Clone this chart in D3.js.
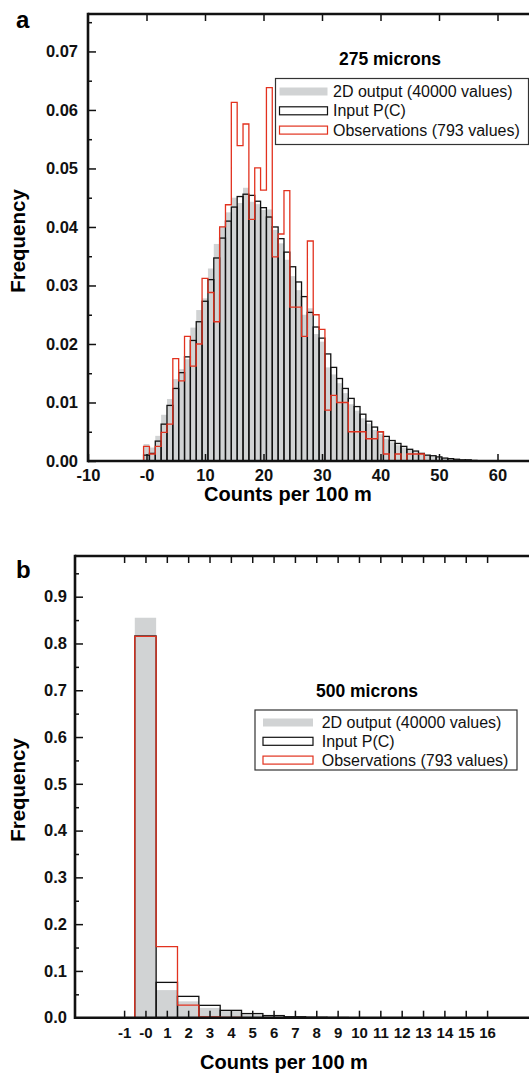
<!DOCTYPE html>
<html>
<head>
<meta charset="utf-8">
<script src="https://cdn.jsdelivr.net/npm/d3@7"></script>
<style>
  body { margin: 0; background: #fff; }
  svg { display: block; }
  text { font-family: "Liberation Sans", Arial, Helvetica, sans-serif; }
</style>
</head>
<body>
<svg id="chart" width="529" height="1073"></svg>
<script>
// ---- panel a : 275 microns ----
const countsA = [0, 1, 2, 3, 4, 5, 6, 7, 8, 9, 10, 11, 12, 13, 14, 15, 16, 17, 18, 19,
  20, 21, 22, 23, 24, 25, 26, 27, 28, 29, 30, 31, 32, 33, 34, 35, 36, 37, 38, 39,
  40, 41, 42, 43, 44, 45, 46, 47, 48, 49, 50, 51, 52, 53, 54, 55, 56];
// 2D output (grey filled bars)
const outputA = [0.0029, 0.0023, 0.0043, 0.0079, 0.0106, 0.0140, 0.0157, 0.0174, 0.0228, 0.0258,
  0.0278, 0.0329, 0.0371, 0.0401, 0.0425, 0.0450, 0.0441, 0.0467, 0.0443, 0.0439,
  0.0429, 0.0430, 0.0395, 0.0372, 0.0344, 0.0316, 0.0292, 0.0250, 0.0261, 0.0217,
  0.0204, 0.0160, 0.0148, 0.0133, 0.0116, 0.0097, 0.0086, 0.0073, 0.0064, 0.0053,
  0.0046, 0.0038, 0.0032, 0.0027, 0.0023, 0.0019, 0.0015, 0.0012, 0.0010, 0.0008,
  0.0006, 0.0005, 0.0004, 0.0003, 0.0002, 0.0002, 0.0001];
// Input P(C) (black outlined bars)
const inputA = [0.0010, 0.0013, 0.0034, 0.0063, 0.0095, 0.0124, 0.0151, 0.0178, 0.0206, 0.0238,
  0.0273, 0.0310, 0.0347, 0.0381, 0.0410, 0.0434, 0.0452, 0.0456, 0.0454, 0.0444,
  0.0433, 0.0417, 0.0400, 0.0380, 0.0357, 0.0332, 0.0306, 0.0281, 0.0254, 0.0229,
  0.0210, 0.0183, 0.0160, 0.0141, 0.0124, 0.0107, 0.0093, 0.0080, 0.0068, 0.0058,
  0.0050, 0.0042, 0.0035, 0.0030, 0.0025, 0.0020, 0.0017, 0.0013, 0.0010, 0.0009,
  0.0007, 0.0005, 0.0004, 0.0003, 0.0002, 0.0002, 0.0001];
// Observations (red step outline)
const obsCountsA = [0, 1, 2, 3, 4, 5, 6, 7, 8, 9, 10, 11, 12, 13, 14, 15, 16, 17, 18, 19,
  20, 21, 22, 23, 24, 25, 26, 27, 28, 29, 30, 31, 32, 33, 34, 35, 36, 37, 38, 39,
  40, 41, 42, 43, 44, 45, 46, 47, 48];
const obsA = [0.0025, 0.0012, 0.0025, 0.0049, 0.0063, 0.0175, 0.0137, 0.0213, 0.0162, 0.0200,
  0.0312, 0.0288, 0.0238, 0.0400, 0.0438, 0.0613, 0.0539, 0.0576, 0.0413, 0.0501,
  0.0463, 0.0638, 0.0349, 0.0388, 0.0462, 0.0263, 0.0263, 0.0213, 0.0376, 0.0250,
  0.0225, 0.0087, 0.0112, 0.0100, 0.0100, 0.0050, 0.0050, 0.0050, 0.0038, 0.0038,
  0.0050, 0.0012, 0, 0.0012, 0, 0.0012, 0.0012, 0.0012, 0];
const xTicksA = [-10, 0, 10, 20, 30, 40, 50, 60];
const yTicksA = [0, 0.01, 0.02, 0.03, 0.04, 0.05, 0.06, 0.07];
const yMinorA = [0.005, 0.015, 0.025, 0.035, 0.045, 0.055, 0.065, 0.075];

// ---- panel b : 500 microns ----
const countsB = [0, 1, 2, 3, 4, 5, 6, 7, 8, 9];
const outputB = [0.855, 0.059, 0.035, 0.021, 0.014, 0.0065, 0.003, 0.0013, 0.0006, 0.0003];
const inputB = [0.816, 0.0755, 0.0456, 0.0264, 0.0157, 0.0088, 0.0045, 0.002, 0.001, 0.0005];
const obsCountsB = [0, 1, 2, 3, 4, 5];
const obsB = [0.815, 0.152, 0.027, 0.0015, 0.0006, 0.0003];
const xTicksB = [-1, 0, 1, 2, 3, 4, 5, 6, 7, 8, 9, 10, 11, 12, 13, 14, 15, 16];
const yTicksB = [0, 0.1, 0.2, 0.3, 0.4, 0.5, 0.6, 0.7, 0.8, 0.9];
const yMinorB = [0.05, 0.15, 0.25, 0.35, 0.45, 0.55, 0.65, 0.75, 0.85, 0.95];

const legendLabels = ["2D output (40000 values)", "Input P(C)", "Observations (793 values)"];

const GREY = "#d1d3d4";
const RED = "#e2321f";
const INK = "#111";

const svg = d3.select("#chart");

function drawPanel(cfg) {
  const g = svg.append("g");
  const x = d3.scaleLinear().domain(cfg.xDomain).range([cfg.left, cfg.right]);
  const y = d3.scaleLinear().domain(cfg.yDomain).range([cfg.bottom, cfg.top]);

  // grey filled bars
  g.append("g").selectAll("rect")
    .data(cfg.counts.map((c, i) => ({ c, v: cfg.output[i] })))
    .enter().append("rect")
    .attr("x", d => x(d.c - 0.5))
    .attr("y", d => y(d.v))
    .attr("width", d => x(d.c + 0.5) - x(d.c - 0.5))
    .attr("height", d => y(0) - y(d.v))
    .attr("fill", GREY);

  // black outline bars
  g.append("g").selectAll("rect")
    .data(cfg.counts.map((c, i) => ({ c, v: cfg.input[i] })))
    .enter().append("rect")
    .attr("x", d => x(d.c - 0.5))
    .attr("y", d => y(d.v))
    .attr("width", d => x(d.c + 0.5) - x(d.c - 0.5))
    .attr("height", d => y(0) - y(d.v))
    .attr("fill", "none")
    .attr("stroke", INK)
    .attr("stroke-width", 1.3);

  // red step outline of the observations
  const pts = [[cfg.obsCounts[0] - 0.5, 0]];
  cfg.obsCounts.forEach((c, i) => {
    pts.push([c - 0.5, cfg.obs[i]]);
    pts.push([c + 0.5, cfg.obs[i]]);
  });
  pts.push([cfg.obsCounts[cfg.obsCounts.length - 1] + 0.5, 0]);
  g.append("path")
    .attr("d", d3.line().x(d => x(d[0])).y(d => y(d[1]))(pts))
    .attr("fill", "none")
    .attr("stroke", RED)
    .attr("stroke-width", 1.3);

  // axes
  const styleAxis = sel => {
    sel.select(".domain").remove();
    sel.selectAll("line").attr("stroke", INK).attr("stroke-width", 1.5);
    sel.selectAll("text")
      .attr("fill", INK)
      .style("font-size", cfg.tickFont + "px")
      .style("font-weight", "bold");
  };
  g.append("g").attr("transform", `translate(${cfg.left},0)`)
    .call(d3.axisLeft(y).tickValues(cfg.yTicks).tickSize(-8).tickPadding(cfg.yPad)
      .tickFormat(d3.format(cfg.yFmt)))
    .call(styleAxis);
  g.append("g").attr("transform", `translate(${cfg.left},0)`)
    .call(d3.axisLeft(y).tickValues(cfg.yMinor.filter(v => v < cfg.yDomain[1])).tickSize(-4).tickFormat(""))
    .call(styleAxis);
  g.append("g").attr("transform", `translate(0,${cfg.bottom})`)
    .call(d3.axisBottom(x).tickValues(cfg.xTicks).tickSize(-7).tickPadding(cfg.xPad)
      .tickFormat(d => d === 0 ? "-0" : d))
    .call(styleAxis)
    .call(s => s.selectAll("text").style("font-size", cfg.xTickFont + "px"));
  g.append("g").attr("transform", `translate(0,${cfg.top})`)
    .call(d3.axisTop(x).tickValues(cfg.xTicks.filter(v => v > cfg.xDomain[0])).tickSize(-7).tickFormat(""))
    .call(styleAxis);

  // frame (left, top, bottom; right side runs off the page)
  const frame = g.append("g").attr("stroke", INK).attr("stroke-width", 2.6);
  frame.append("line").attr("x1", cfg.left).attr("x2", cfg.left).attr("y1", cfg.top - 1.3).attr("y2", cfg.bottom + 1.3);
  frame.append("line").attr("x1", cfg.left).attr("x2", cfg.right).attr("y1", cfg.top).attr("y2", cfg.top);
  frame.append("line").attr("x1", cfg.left).attr("x2", cfg.right).attr("y1", cfg.bottom).attr("y2", cfg.bottom);

  // labels
  g.append("text").attr("x", cfg.letterX).attr("y", cfg.letterY)
    .text(cfg.letter).style("font-size", "24px").style("font-weight", "bold");
  g.append("text").attr("x", cfg.titleX).attr("y", cfg.titleY)
    .attr("text-anchor", "middle").text(cfg.title)
    .style("font-size", "17.5px").style("font-weight", "bold");
  g.append("text").attr("x", cfg.xLabelX).attr("y", cfg.xLabelY)
    .attr("text-anchor", "middle").text("Counts per 100 m")
    .style("font-size", "20px").style("font-weight", "bold");
  g.append("text")
    .attr("transform", `translate(${cfg.yLabelX},${cfg.yLabelY}) rotate(-90)`)
    .attr("text-anchor", "middle").text("Frequency")
    .style("font-size", "20.5px").style("font-weight", "bold");

  // legend
  const L = cfg.legend;
  const lg = g.append("g");
  lg.append("rect").attr("x", L.x).attr("y", L.y).attr("width", L.w).attr("height", L.h)
    .attr("fill", "#fff").attr("stroke", "#333").attr("stroke-width", 1.2);
  legendLabels.forEach((lab, i) => {
    const cy = L.row0 + i * L.step;
    const sw = lg.append("rect").attr("x", L.x + L.swX).attr("y", cy - 4)
      .attr("width", L.swW).attr("height", 8);
    if (i === 0) sw.attr("fill", GREY);
    else sw.attr("fill", "none").attr("stroke", i === 1 ? INK : RED).attr("stroke-width", 1.2);
    lg.append("text").attr("x", L.x + L.textX).attr("y", cy + 5.5)
      .text(lab).style("font-size", "16px").attr("fill", INK);
  });
}

drawPanel({
  letter: "a", letterX: 16, letterY: 28,
  title: "275 microns", titleX: 390, titleY: 65,
  counts: countsA, output: outputA, input: inputA, obsCounts: obsCountsA, obs: obsA,
  xDomain: [-10, 66], yDomain: [0, 0.0764],
  left: 88, right: 532.6, top: 14, bottom: 461,
  xTicks: xTicksA, yTicks: yTicksA, yMinor: yMinorA, yFmt: ".2f",
  tickFont: 16.5, xTickFont: 16.5, yPad: 10, xPad: 8,
  xLabelX: 288, xLabelY: 501, yLabelX: 25, yLabelY: 241,
  legend: { x: 275.5, y: 78.5, w: 253, h: 66, swX: 4, swW: 48, textX: 57.5, row0: 91.5, step: 19.3 }
});

drawPanel({
  letter: "b", letterX: 16, letterY: 578,
  title: "500 microns", titleX: 367, titleY: 696.5,
  counts: countsB, output: outputB, input: inputB, obsCounts: obsCountsB, obs: obsB,
  xDomain: [-3.3, 18.3], yDomain: [0, 0.987],
  left: 75, right: 536.2, top: 556, bottom: 1017.7,
  xTicks: xTicksB, yTicks: yTicksB, yMinor: yMinorB, yFmt: ".1f",
  tickFont: 16.5, xTickFont: 15, yPad: 8, xPad: 10,
  xLabelX: 284, xLabelY: 1069, yLabelX: 25, yLabelY: 790,
  legend: { x: 255, y: 710, w: 262, h: 60, swX: 8, swW: 50, textX: 66.7, row0: 722.5, step: 18.8 }
});
</script>
</body>
</html>
